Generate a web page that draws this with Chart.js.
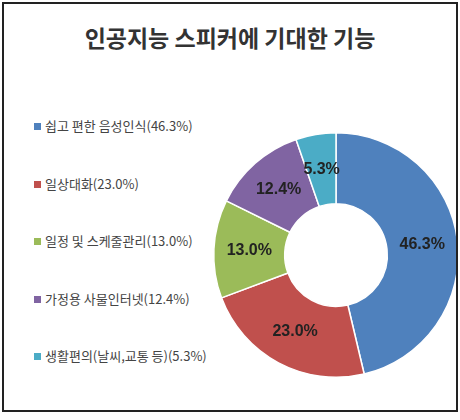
<!DOCTYPE html>
<html><head><meta charset="utf-8">
<script src="https://cdn.jsdelivr.net/npm/chart.js@4"></script>
<style>
body{margin:0;background:#fff;font-family:"Noto Sans CJK KR",sans-serif}
#frame{position:absolute;left:2px;top:2px;width:456px;height:410px;border:2px solid #222;box-sizing:border-box;overflow:hidden}
#title{position:absolute;left:0;width:100%;top:16px;text-align:center;font-size:23px;font-weight:bold;color:#333}
.item{position:absolute;left:30px;font-size:13px;color:#444;white-space:nowrap}
.item span{display:inline-block;width:7px;height:7px;margin-right:4px;vertical-align:1px}
#wrap{position:absolute;left:207px;top:126px;width:250px;height:250px}
</style></head>
<body>
<div id="frame">
<div id="title">인공지능 스피커에 기대한 기능</div>
<div id="legend"></div>
<div id="wrap"><canvas id="c"></canvas></div>
</div>
<script>
const categories = ["쉽고 편한 음성인식", "일상대화", "일정 및 스케줄관리", "가정용 사물인터넷", "생활편의(날씨,교통 등)"];
const values = [46.3, 23.0, 13.0, 12.4, 5.3];
const colors = ["#4F81BD", "#C0504D", "#9BBB59", "#8064A2", "#4BACC6"];

const legend = document.getElementById("legend");
categories.forEach((c, i) => {
    const d = document.createElement("div");
    d.className = "item";
    d.style.top = (112 + i * 57.5) + "px";
    d.innerHTML = '<span style="background:' + colors[i] + '"></span>' + c + '(' + values[i].toFixed(1) + '%)';
    legend.appendChild(d);
});

const labelPlugin = {
    id: "labels",
    afterDatasetsDraw(chart) {
        const ctx = chart.ctx;
        chart.getDatasetMeta(0).data.forEach((arc, i) => {
            const p = arc.tooltipPosition();
            ctx.save();
            ctx.font = "bold 16px 'Liberation Sans', Arial, sans-serif";
            ctx.fillStyle = "#222";
            ctx.textAlign = "center";
            ctx.textBaseline = "middle";
            ctx.fillText(values[i].toFixed(1) + "%", p.x, p.y);
            ctx.restore();
        });
    }
};

new Chart(document.getElementById("c"), {
    type: "doughnut",
    data: {
        labels: categories,
        datasets: [{data: values, backgroundColor: colors, borderColor: "#fff", borderWidth: 1.5}]
    },
    options: {
        responsive: true,
        maintainAspectRatio: false,
        animation: false,
        cutout: "42%",
        layout: {padding: 2},
        plugins: {legend: {display: false}, tooltip: {enabled: false}}
    },
    plugins: [labelPlugin]
});
</script>
</body></html>
